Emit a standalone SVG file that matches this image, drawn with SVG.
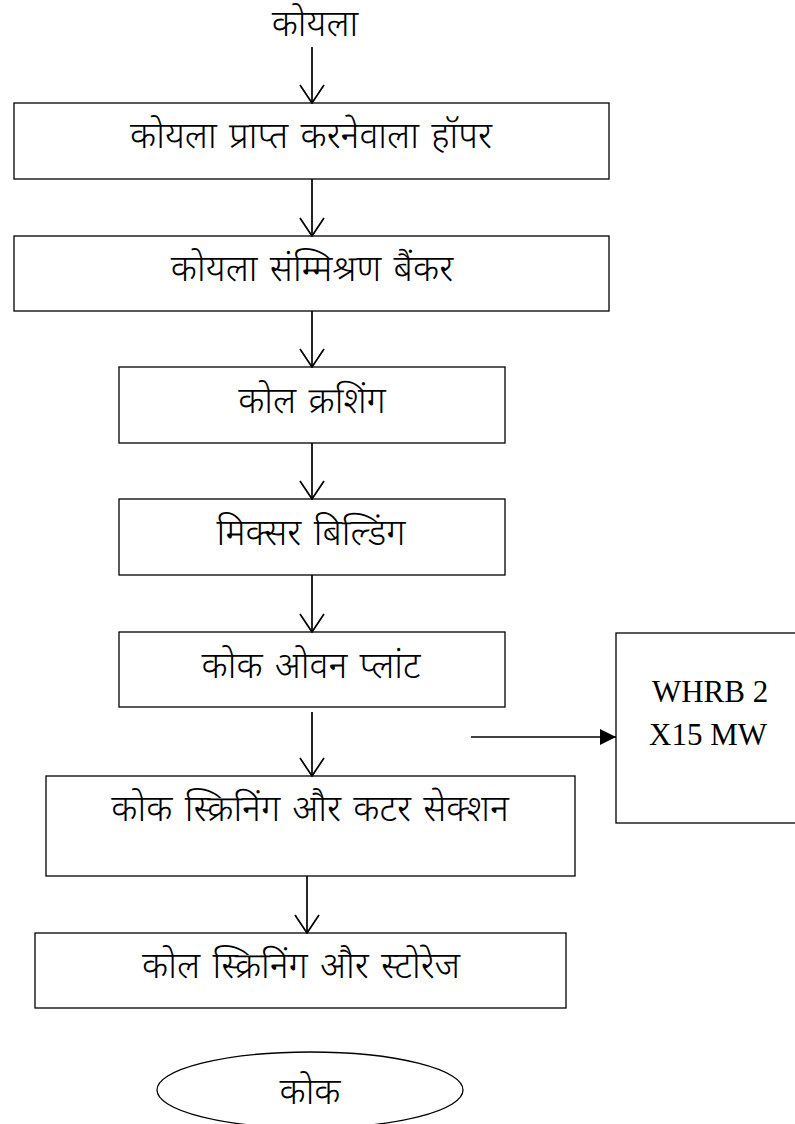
<svg xmlns="http://www.w3.org/2000/svg" width="795" height="1124" viewBox="0 0 795 1124">
  <style>
    .box { fill: #fff; stroke: #000; stroke-width: 1.3; }
    .hi { font-family: "Noto Sans Devanagari", "Lohit Devanagari", "FreeSans", "Noto Sans", sans-serif; font-size: 36px; font-weight: 300; word-spacing: 3px; fill: #000; text-anchor: middle; }
    .en { font-family: "Liberation Serif", "Times New Roman", serif; font-size: 31px; fill: #000; text-anchor: middle; }
    .wire { stroke: #000; stroke-width: 1.7; fill: none; }
  </style>
  <defs>
    <marker id="vee" viewBox="0 0 20 26" refX="19" refY="13" markerWidth="20" markerHeight="26" markerUnits="userSpaceOnUse" orient="auto">
      <path d="M1,1 L19,13 L1,25" fill="none" stroke="#000" stroke-width="1.7"/>
    </marker>
    <marker id="solid" viewBox="0 0 16 16" refX="16" refY="8" markerWidth="16" markerHeight="16" markerUnits="userSpaceOnUse" orient="auto">
      <path d="M0,0 L16,8 L0,16 Z" fill="#000"/>
    </marker>
  </defs>

  <!-- input label -->
  <text id="coal-in" class="hi" x="315" y="36">कोयला</text>

  <!-- process boxes -->
  <g id="hopper">
    <rect class="box" x="14" y="103" width="595" height="76"/>
    <text class="hi" x="311" y="148">कोयला प्राप्त करनेवाला हॉपर</text>
  </g>
  <g id="blending-bunker">
    <rect class="box" x="14" y="236" width="595" height="75"/>
    <text class="hi" x="312" y="281">कोयला संम्मिश्रण बैंकर</text>
  </g>
  <g id="crushing">
    <rect class="box" x="119" y="367" width="386" height="76"/>
    <text class="hi" x="312" y="413">कोल क्रशिंग</text>
  </g>
  <g id="mixer">
    <rect class="box" x="119" y="499" width="386" height="76"/>
    <text class="hi" x="311" y="545">मिक्सर बिल्डिंग</text>
  </g>
  <g id="coke-oven">
    <rect class="box" x="119" y="632" width="386" height="75"/>
    <text class="hi" x="311" y="678">कोक ओवन प्लांट</text>
  </g>
  <g id="whrb">
    <rect class="box" x="616" y="633" width="190" height="190"/>
    <text class="en" x="710" y="702">WHRB 2</text>
    <text class="en" x="708" y="745">X15 MW</text>
  </g>
  <g id="screening-cutter">
    <rect class="box" x="46" y="776" width="529" height="100"/>
    <text class="hi" x="310" y="821">कोक स्क्रिनिंग और कटर सेक्शन</text>
  </g>
  <g id="screening-storage">
    <rect class="box" x="35" y="933" width="531" height="75"/>
    <text class="hi" x="301" y="978">कोल स्क्रिनिंग और स्टोरेज</text>
  </g>
  <g id="coke-out">
    <ellipse class="box" cx="310" cy="1090" rx="153" ry="38"/>
    <text class="hi" x="310" y="1104">कोक</text>
  </g>

  <!-- connectors -->
  <g id="connectors">
    <line class="wire" x1="312" y1="47" x2="312" y2="103" marker-end="url(#vee)"/>
    <line class="wire" x1="312" y1="179" x2="312" y2="236" marker-end="url(#vee)"/>
    <line class="wire" x1="312" y1="311" x2="312" y2="367" marker-end="url(#vee)"/>
    <line class="wire" x1="312" y1="443" x2="312" y2="499" marker-end="url(#vee)"/>
    <line class="wire" x1="312" y1="575" x2="312" y2="632" marker-end="url(#vee)"/>
    <line class="wire" x1="312" y1="712" x2="312" y2="776" marker-end="url(#vee)"/>
    <line class="wire" x1="307" y1="876" x2="307" y2="933" marker-end="url(#vee)"/>
    <line class="wire" x1="471" y1="737" x2="616" y2="737" marker-end="url(#solid)"/>
  </g>
</svg>
